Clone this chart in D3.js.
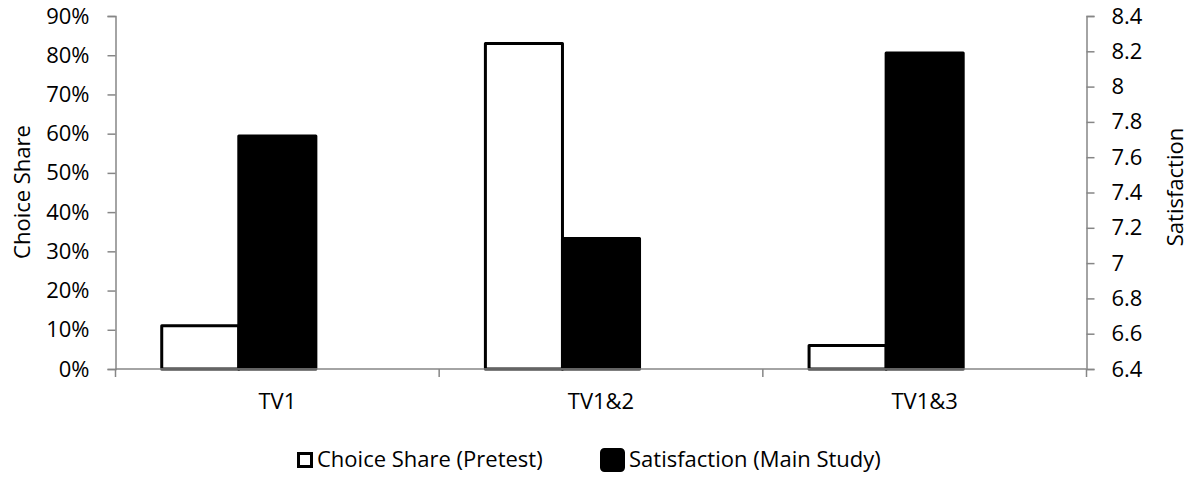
<!DOCTYPE html>
<html>
<head>
<meta charset="utf-8">
<script src="https://cdn.jsdelivr.net/npm/d3@7"></script>
<style>
  html, body { margin: 0; padding: 0; background: #fff; }
  svg { display: block; font-family: "Open Sans", sans-serif; }
</style>
</head>
<body>
<svg id="chart" width="1189" height="480"></svg>
<script>
// Categories and series values
const categories = ["TV1", "TV1&2", "TV1&3"];
const choiceShare = [0.11, 0.83, 0.06];      // left axis, share of choices (pretest)
const satisfaction = [7.72, 7.14, 8.19];     // right axis, satisfaction rating (main study)
const seriesNames = ["Choice Share (Pretest)", "Satisfaction (Main Study)"];
const leftTicks = [0, 0.1, 0.2, 0.3, 0.4, 0.5, 0.6, 0.7, 0.8, 0.9];
const rightTicks = [6.4, 6.6, 6.8, 7, 7.2, 7.4, 7.6, 7.8, 8, 8.2, 8.4];

const svg = d3.select("#chart");
const axisColor = "#868686";
const fontSize = 22;

const plot = { left: 115.5, right: 1086.5, top: 16, bottom: 369 };

const x = d3.scaleBand().domain(categories).range([plot.left, plot.right]).padding(0);
// three slots per category; the third is left empty
const slot = d3.scaleBand().domain(["share", "sat", "blank"]).range([0, x.bandwidth()])
  .paddingInner(0).paddingOuter(0.6);

const yLeft = d3.scaleLinear().domain([0, 0.9]).range([plot.bottom, plot.top]);
const yRight = d3.scaleLinear().domain([6.4, 8.4]).range([plot.bottom, plot.top]);

// Left axis
const gL = svg.append("g").attr("transform", `translate(${plot.left},0)`)
  .call(d3.axisLeft(yLeft).tickValues(leftTicks).tickFormat(d3.format(".0%")).tickSizeOuter(0).tickSize(8).tickPadding(18));
// Right axis
const gR = svg.append("g").attr("transform", `translate(${plot.right},0)`)
  .call(d3.axisRight(yRight).tickValues(rightTicks).tickFormat(d => String(+d.toFixed(1))).tickSizeOuter(0).tickSize(8).tickPadding(17));

[gL, gR].forEach(g => {
  g.select(".domain").attr("stroke", axisColor).attr("stroke-width", 1.5);
  g.selectAll(".tick line").attr("stroke", axisColor).attr("stroke-width", 1.5);
  g.selectAll(".tick text").attr("fill", "#000").attr("font-size", fontSize)
    .attr("font-family", "'Open Sans', sans-serif");
});

// Bars: choice share (white, outlined) on the left scale
svg.append("g").selectAll("rect").data(categories).join("rect")
  .attr("x", (c) => x(c) + slot("share"))
  .attr("width", slot.bandwidth())
  .attr("y", (c, i) => yLeft(choiceShare[i]))
  .attr("height", (c, i) => plot.bottom - yLeft(choiceShare[i]))
  .attr("fill", "#fff").attr("stroke", "#000").attr("stroke-width", 3)
  .attr("stroke-linejoin", "round");

// Bars: satisfaction (black) on the right scale
svg.append("g").selectAll("rect").data(categories).join("rect")
  .attr("x", (c) => x(c) + slot("sat"))
  .attr("width", slot.bandwidth())
  .attr("y", (c, i) => yRight(satisfaction[i]))
  .attr("height", (c, i) => plot.bottom - yRight(satisfaction[i]))
  .attr("fill", "#000").attr("stroke", "#000").attr("stroke-width", 3)
  .attr("stroke-linejoin", "round");

// Category axis
const gX = svg.append("g");
gX.append("line").attr("x1", plot.left).attr("x2", plot.right)
  .attr("y1", plot.bottom).attr("y2", plot.bottom)
  .attr("stroke", axisColor).attr("stroke-width", 1.5);
const bounds = categories.map(c => x(c)).concat([x(categories[categories.length - 1]) + x.bandwidth()]);
gX.selectAll("line.tick").data(bounds).join("line").attr("class", "tick")
  .attr("x1", d => d).attr("x2", d => d)
  .attr("y1", plot.bottom).attr("y2", plot.bottom + 8)
  .attr("stroke", axisColor).attr("stroke-width", 1.5);
gX.selectAll("text").data(categories).join("text")
  .attr("x", c => x(c) + x.bandwidth() / 2)
  .attr("y", 409)
  .attr("text-anchor", "middle").attr("font-size", fontSize).attr("fill", "#000")
  .text(c => c);

// Axis titles
svg.append("text").attr("transform", "translate(30,192) rotate(-90)")
  .attr("text-anchor", "middle").attr("font-size", fontSize).attr("fill", "#000")
  .text("Choice Share");
svg.append("text").attr("transform", "translate(1183,187) rotate(-90)")
  .attr("text-anchor", "middle").attr("font-size", fontSize).attr("fill", "#000")
  .text("Satisfaction");

// Legend
const legend = svg.append("g");
const l1 = legend.append("g");
l1.append("rect").attr("x", 298.5).attr("y", 453.5).attr("width", 13).attr("height", 13)
  .attr("fill", "#fff").attr("stroke", "#000").attr("stroke-width", 3);
l1.append("text").attr("x", 317).attr("y", 467).attr("font-size", fontSize).attr("fill", "#000")
  .text(seriesNames[0]);
const l2 = legend.append("g");
l2.append("rect").attr("x", 601.5).attr("y", 449.5).attr("width", 22).attr("height", 21).attr("rx", 3)
  .attr("fill", "#000").attr("stroke", "#000").attr("stroke-width", 3).attr("stroke-linejoin", "round");
l2.append("text").attr("x", 629).attr("y", 467).attr("font-size", fontSize).attr("fill", "#000")
  .text(seriesNames[1]);
</script>
</body>
</html>
